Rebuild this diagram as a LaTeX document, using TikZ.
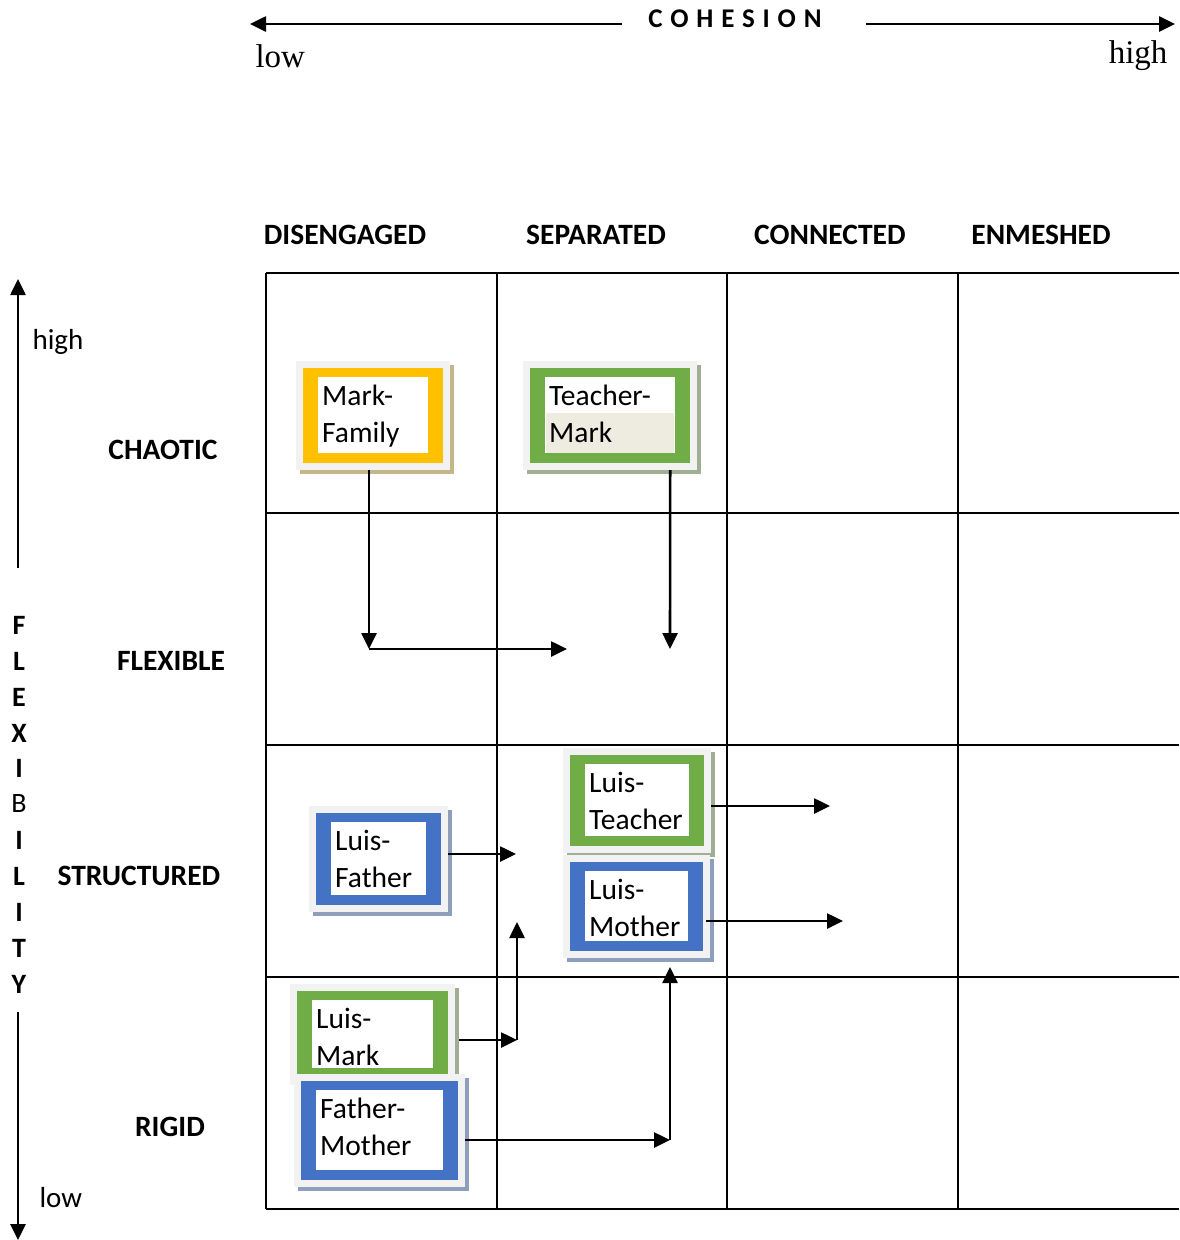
\documentclass[tikz,border=0pt]{standalone}
\usepackage{fontspec}
\setmainfont{Carlito}
\newfontfamily\serifont{Liberation Serif}
\newfontfamily\spacedfont[LetterSpace=29]{Carlito}
\usetikzlibrary{arrows.meta,calc,fit}
\definecolor{boxgray}{RGB}{242,242,242}
\definecolor{orangeB}{RGB}{255,192,0}
\definecolor{greenB}{RGB}{112,173,71}
\definecolor{blueB}{RGB}{68,114,196}
\definecolor{tanS}{RGB}{196,182,135}
\definecolor{greenS}{RGB}{160,174,150}
\definecolor{blueS}{RGB}{143,158,188}
\definecolor{beige}{RGB}{238,236,225}
\tikzset{
  grid/.style={line width=1.8pt},
  arr/.style={line width=2.6pt,-{Triangle[length=16pt,width=15pt]}},
  outerbox/.style={inner sep=0pt, fill=boxgray},
  boxtext/.style={inner sep=0pt, align=left, font=\fontsize{29.5}{36.5}\selectfont},
  header/.style={font=\fontsize{29.5}{32}\selectfont\bfseries},
  axisletter/.style={font=\fontsize{28}{30}\selectfont\bfseries},
  sidetext/.style={font=\fontsize{29}{32}\selectfont},
}
% #1 name, #2 x1, #3 y1, #4 x2, #5 y2, #6 border, #7 shadow, #8 text
\newcommand\relbox[8]{%
  \fill[#7] ($(#2,#3)+(4,4)$) rectangle ($(#4,#5)+(4,4)$);
  \node[outerbox, fit={(#2,#3)(#4,#5)}] (#1) {};
  \fill[#6] ($(#2,#3)+(7,7)$) rectangle ($(#4,#5)+(-7,-7)$);
  \fill[white] ($(#2,#3)+(22,16)$) rectangle ($(#4,#5)+(-22,-17)$);
  \node[boxtext, anchor=base west] (#1-t) at ($(#2,#3)+(26,81)$) {#8};
}
\begin{document}
\begin{tikzpicture}[x=1pt,y=-1pt]
\useasboundingbox (0,0) rectangle (1179,1240);
% top axis
\node[font=\fontsize{27}{30}\selectfont\bfseries\spacedfont] (coh) at (735,19) {COHESION};
\coordinate (cl) at (250,24);
\coordinate (cr) at (1175,24);
\draw[arr] (622,24) coordinate (cls) -- (cl);
\draw[arr] (866,24) coordinate (crs) -- (cr);
\node[font=\fontsize{33}{36}\selectfont\serifont, anchor=west] (clow) at (252,56) {low};
\node[font=\fontsize{33}{36}\selectfont\serifont, anchor=east] (chigh) at (1171,56) {high};
% column headers
\node[header] (h1) at (345,235) {DISENGAGED};
\node[header] (h2) at (596,235) {SEPARATED};
\node[header] (h3) at (830,235) {CONNECTED};
\node[header] (h4) at (1041,235) {ENMESHED};
% row headers
\node[header] (r1) at (163,450) {CHAOTIC};
\node[header] (r2) at (171,661) {FLEXIBLE};
\node[header] (r3) at (139,876) {STRUCTURED};
\node[header] (r4) at (170,1127) {RIGID};
% left axis
\coordinate (lu) at (18,279);
\coordinate (ld) at (18,1240);
\draw[arr] (18,568) coordinate (lus) -- (lu);
\draw[arr] (18,1012) coordinate (lds) -- (ld);
\node[sidetext, anchor=west] (lhigh) at (29,342) {high};
\node[sidetext, anchor=west] (llow) at (36,1198) {low};
\foreach \l/\y [count=\i] in {F/625,L/661,E/697,X/733,I/768,B/804,I/840,L/876,I/912,T/948,Y/984}{
  \ifnum\i=6
    \node[font=\fontsize{28}{30}\selectfont] (fl\i) at (19,\y) {\l};
  \else
    \node[axisletter] (fl\i) at (19,\y) {\l};
  \fi
}
% grid
\foreach \y in {273,513,745,977,1209} \draw[grid] (266,\y) -- (1179,\y);
\foreach \x in {266,497,727,958} \draw[grid] (\x,273) -- (\x,1209);
% boxes
\relbox{mf}{296}{361}{450}{470}{orangeB}{tanS}{Mark-\\Family}
\relbox{tm}{523}{361}{697}{470}{greenB}{greenS}{}
\fill[beige] (546,413) rectangle (674,453);
\node[boxtext, anchor=base west] (tm-t) at (549,442) {Teacher-\\Mark};
\relbox{lf}{309}{806}{448}{912}{blueB}{blueS}{Luis-\\Father}
\relbox{lt}{563}{748}{711}{853}{greenB}{greenS}{Luis-\\Teacher}
\relbox{lm}{563}{855}{710}{958}{blueB}{blueS}{Luis-\\Mother}
\relbox{lmk}{290}{984}{455}{1085}{greenB}{greenS}{Luis-\\Mark}
\relbox{fm}{294}{1074}{465}{1187}{blueB}{blueS}{Father-\\Mother}
% connectors
\coordinate (a1) at (369,649);
\coordinate (a1r) at (567,649);
\coordinate (a2) at (670,649);
\coordinate (a3) at (516,854);
\coordinate (a4) at (830,806);
\coordinate (a5) at (843,921);
\coordinate (a6) at (517,1040);
\coordinate (a6u) at (517,922);
\coordinate (a7) at (670,1140);
\coordinate (a7u) at (670,967);
\draw[arr] ([xshift=-4pt]mf.south) -- (a1);
\draw[arr] (a1) -- (a1r);
\draw[arr] ([xshift=-27pt]tm.south east) -- (a2);
\draw[arr] ([yshift=5pt]lf.east) -- (a3);
\draw[arr] ([yshift=-5.5pt]lt.east) -- (a4);
\draw[arr] ([xshift=-4pt,yshift=-14.5pt]lm.east) -- (a5);
\draw[arr] ([xshift=4pt]lmk.east |- a6) -- (a6);
\draw[arr] (a6) -- (a6u);
\draw[arr] (fm.east |- a7) -- (a7);
\draw[arr] (a7) -- (a7u);
\end{tikzpicture}
\end{document}
